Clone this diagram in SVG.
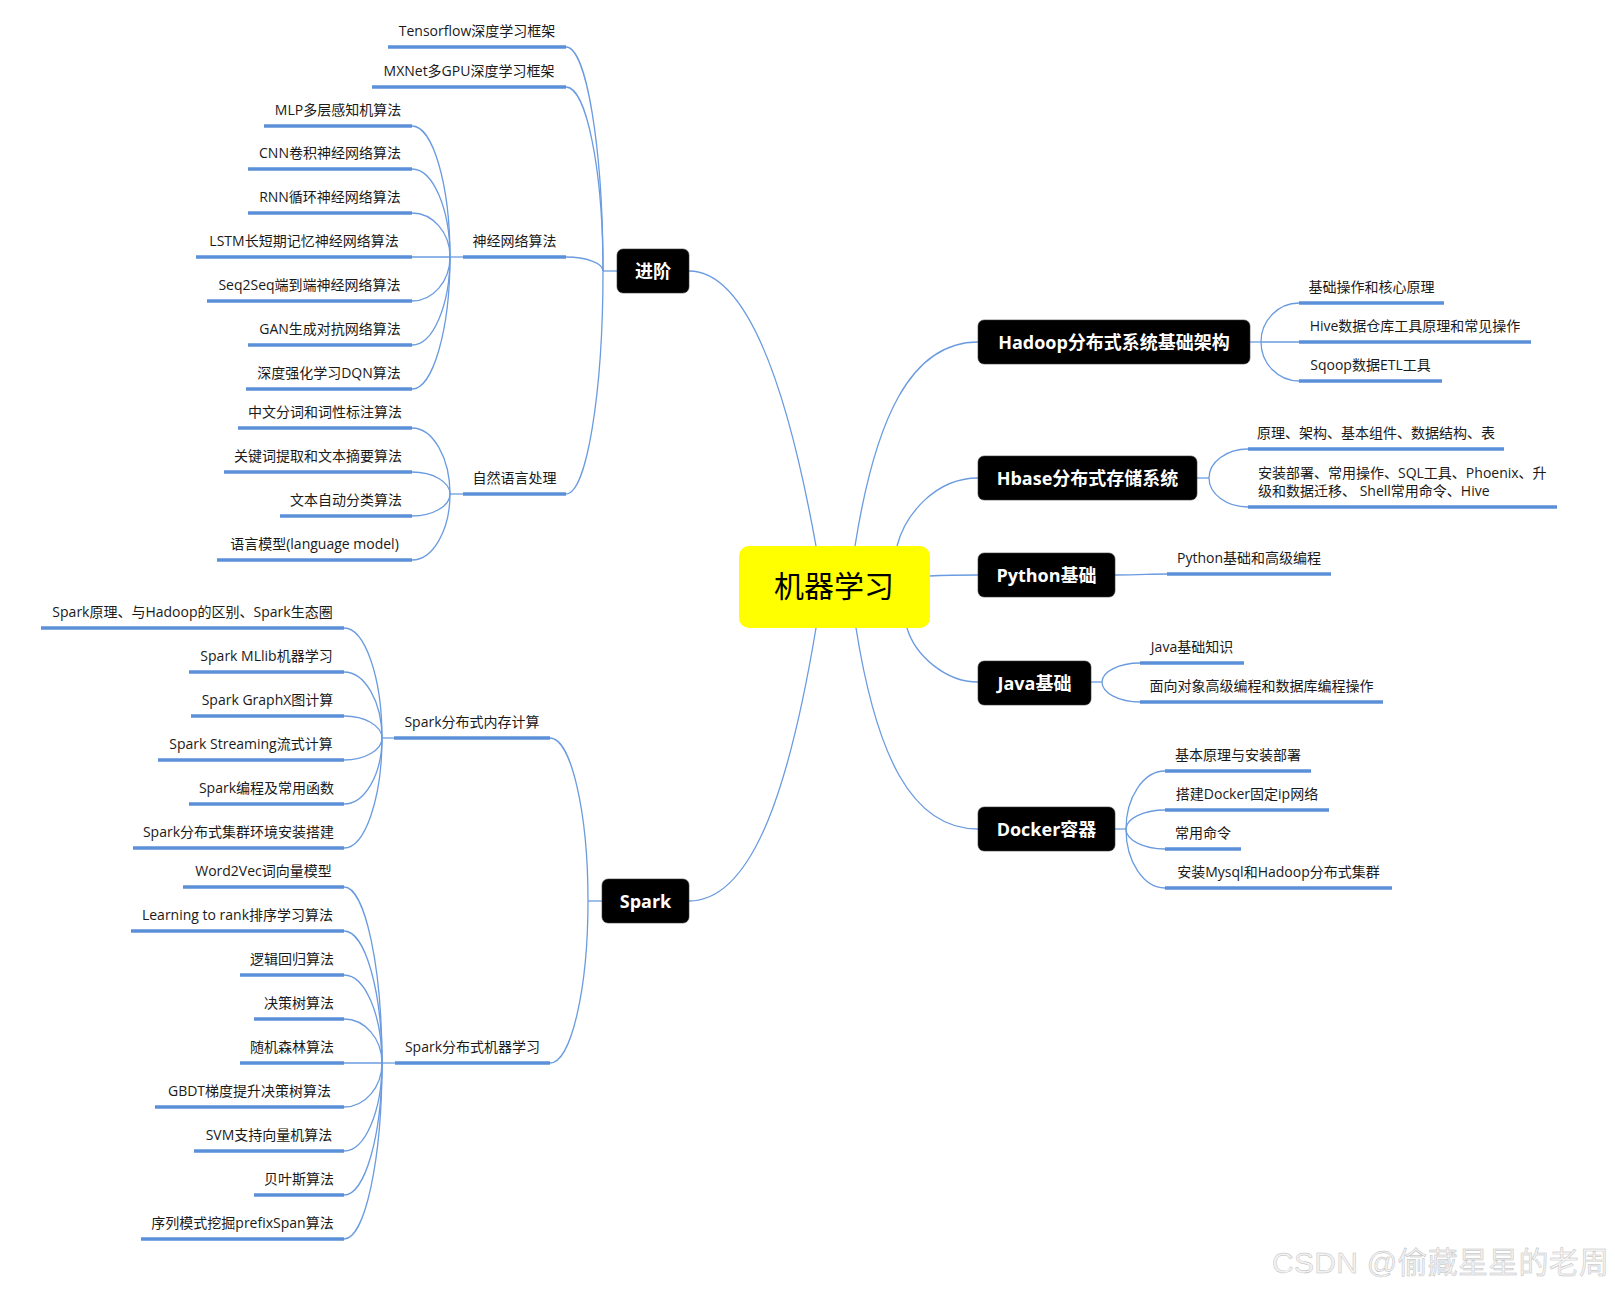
<svg xmlns="http://www.w3.org/2000/svg" width="1615" height="1291" viewBox="0 0 1615 1291">
<style>
.cn{fill:none;stroke:#6a9be0;stroke-width:1.3}
.ul{stroke:#5b8fd8;stroke-width:3.5}
.lt{font-family:"Open Sans","Noto Sans CJK SC",sans-serif;font-size:14px;fill:#1a1a1a;text-anchor:middle}
.lt.s{text-anchor:start}
.box{fill:#000;stroke:#3a3a3a;stroke-width:0.6}
.nt{font-family:"Open Sans","Noto Sans CJK SC",sans-serif;font-size:18px;font-weight:bold;fill:#fff;text-anchor:middle}
.root{fill:#ffff00}
.rt{font-family:"Open Sans","Noto Sans CJK SC",sans-serif;font-size:30px;fill:#000;text-anchor:middle}
.wm{font-family:"Liberation Sans","Noto Sans CJK SC",sans-serif;font-size:30px;fill:#f2f2f2;stroke:#bdbdbd;stroke-width:0.45}
</style>
<rect width="1615" height="1291" fill="#fff"/>
<g id="connectors">
<path class="cn" d="M816 546 C789 396 749 271 689 271"/>
<path class="cn" d="M816 628 C791 778 755 901 689 901"/>
<path class="cn" d="M855 546 C875 420 910 342 978 342"/>
<path class="cn" d="M897 546 C905 515 935 478 978 478"/>
<path class="cn" d="M929 576 C950 575 960 575 978 575"/>
<path class="cn" d="M907 628 C915 655 945 682 978 682"/>
<path class="cn" d="M856 628 C876 754 911 829 978 829"/>
<path class="cn" d="M603 271 H617"/>
<path class="cn" d="M566 47 C586.4 47 603 147.8 603 271"/>
<path class="cn" d="M566 87 C586.4 87 603 169.8 603 271"/>
<path class="cn" d="M566 257 C586.4 257 603 263.3 603 271"/>
<path class="cn" d="M566 494 C586.4 494 603 393.7 603 271"/>
<path class="cn" d="M450 257 H463"/>
<path class="cn" d="M412 126 C432.9 126 450 185 450 257"/>
<path class="cn" d="M412 169 C432.9 169 450 208.6 450 257"/>
<path class="cn" d="M412 213 C432.9 213 450 232.8 450 257"/>
<path class="cn" d="M412 257 H450"/>
<path class="cn" d="M412 301 C432.9 301 450 281.2 450 257"/>
<path class="cn" d="M412 345 C432.9 345 450 305.4 450 257"/>
<path class="cn" d="M412 389 C432.9 389 450 329.6 450 257"/>
<path class="cn" d="M450 494 H463"/>
<path class="cn" d="M412 428 C432.9 428 450 457.7 450 494"/>
<path class="cn" d="M412 472 C432.9 472 450 481.9 450 494"/>
<path class="cn" d="M412 516 C432.9 516 450 506.1 450 494"/>
<path class="cn" d="M412 560 C432.9 560 450 530.3 450 494"/>
<path class="cn" d="M588 901 H602"/>
<path class="cn" d="M550 738 C570.9 738 588 811.4 588 901"/>
<path class="cn" d="M550 1063 C570.9 1063 588 990.1 588 901"/>
<path class="cn" d="M382 738 H394"/>
<path class="cn" d="M344 628 C364.9 628 382 677.5 382 738"/>
<path class="cn" d="M344 672 C364.9 672 382 701.7 382 738"/>
<path class="cn" d="M344 716 C364.9 716 382 725.9 382 738"/>
<path class="cn" d="M344 760 C364.9 760 382 750.1 382 738"/>
<path class="cn" d="M344 804 C364.9 804 382 774.3 382 738"/>
<path class="cn" d="M344 848 C364.9 848 382 798.5 382 738"/>
<path class="cn" d="M382 1063 H395"/>
<path class="cn" d="M344 887 C364.9 887 382 966.2 382 1063"/>
<path class="cn" d="M344 931 C364.9 931 382 990.4 382 1063"/>
<path class="cn" d="M344 975 C364.9 975 382 1014.6 382 1063"/>
<path class="cn" d="M344 1019 C364.9 1019 382 1038.8 382 1063"/>
<path class="cn" d="M344 1063 H382"/>
<path class="cn" d="M344 1107 C364.9 1107 382 1087.2 382 1063"/>
<path class="cn" d="M344 1151 C364.9 1151 382 1111.4 382 1063"/>
<path class="cn" d="M344 1195 C364.9 1195 382 1135.6 382 1063"/>
<path class="cn" d="M344 1239 C364.9 1239 382 1159.8 382 1063"/>
<path class="cn" d="M1250 342 H1261"/>
<path class="cn" d="M1299 303 C1278.1 303 1261 320.6 1261 342"/>
<path class="cn" d="M1261 342 H1299"/>
<path class="cn" d="M1299 381 C1278.1 381 1261 363.5 1261 342"/>
<path class="cn" d="M1197 478 H1209"/>
<path class="cn" d="M1248 449 C1226.6 449 1209 462.1 1209 478"/>
<path class="cn" d="M1248 507 C1226.6 507 1209 494 1209 478"/>
<path class="cn" d="M1115 575 C1140 575 1150 574 1167 574"/>
<path class="cn" d="M1091 682 H1102"/>
<path class="cn" d="M1140 663 C1119.1 663 1102 671.6 1102 682"/>
<path class="cn" d="M1140 702 C1119.1 702 1102 693 1102 682"/>
<path class="cn" d="M1115 829 H1126"/>
<path class="cn" d="M1165 771 C1143.6 771 1126 797.1 1126 829"/>
<path class="cn" d="M1165 810 C1143.6 810 1126 818.6 1126 829"/>
<path class="cn" d="M1165 849 C1143.6 849 1126 840 1126 829"/>
<path class="cn" d="M1165 888 C1143.6 888 1126 861.5 1126 829"/>
</g>

<g id="root"><rect class="root" x="739" y="546" width="191" height="82" rx="10"/><text class="rt" x="834" y="597">机器学习</text></g>

<g id="n-jinjie"><rect class="box" x="617" y="249" width="72" height="44" rx="6"/><text class="nt" x="653" y="277.5">进阶</text></g>
<g id="n-spark"><rect class="box" x="602" y="879" width="87" height="44" rx="6"/><text class="nt" x="645.5" y="907.5">Spark</text></g>
<g id="n-hadoop"><rect class="box" x="978" y="320" width="272" height="44" rx="6"/><text class="nt" x="1114" y="348.5">Hadoop分布式系统基础架构</text></g>
<g id="n-hbase"><rect class="box" x="978" y="456" width="219" height="44" rx="6"/><text class="nt" x="1087.5" y="484.5">Hbase分布式存储系统</text></g>
<g id="n-python"><rect class="box" x="978" y="553" width="137" height="44" rx="6"/><text class="nt" x="1046.5" y="581.5">Python基础</text></g>
<g id="n-java"><rect class="box" x="978" y="661" width="113" height="44" rx="6"/><text class="nt" x="1034.5" y="689.5">Java基础</text></g>
<g id="n-docker"><rect class="box" x="978" y="807" width="137" height="44" rx="6"/><text class="nt" x="1046.5" y="835.5">Docker容器</text></g>

<g id="t-tensorflow"><line class="ul" x1="388" y1="47" x2="566" y2="47"/><text class="lt" x="477" y="35.5">Tensorflow深度学习框架</text></g>
<g id="t-mxnet"><line class="ul" x1="372" y1="87" x2="566" y2="87"/><text class="lt" x="469" y="75.5">MXNet多GPU深度学习框架</text></g>
<g id="t-nn"><line class="ul" x1="463" y1="257" x2="566" y2="257"/><text class="lt" x="514.5" y="245.5">神经网络算法</text></g>
<g id="t-nlp"><line class="ul" x1="463" y1="494" x2="566" y2="494"/><text class="lt" x="514.5" y="482.5">自然语言处理</text></g>

<g id="t-mlp"><line class="ul" x1="264" y1="126" x2="412" y2="126"/><text class="lt" x="338" y="114.5">MLP多层感知机算法</text></g>
<g id="t-cnn"><line class="ul" x1="248" y1="169" x2="412" y2="169"/><text class="lt" x="330" y="157.5">CNN卷积神经网络算法</text></g>
<g id="t-rnn"><line class="ul" x1="248" y1="213" x2="412" y2="213"/><text class="lt" x="330" y="201.5">RNN循环神经网络算法</text></g>
<g id="t-lstm"><line class="ul" x1="196" y1="257" x2="412" y2="257"/><text class="lt" x="304" y="245.5">LSTM长短期记忆神经网络算法</text></g>
<g id="t-seq"><line class="ul" x1="207" y1="301" x2="412" y2="301"/><text class="lt" x="309.5" y="289.5">Seq2Seq端到端神经网络算法</text></g>
<g id="t-gan"><line class="ul" x1="248" y1="345" x2="412" y2="345"/><text class="lt" x="330" y="333.5">GAN生成对抗网络算法</text></g>
<g id="t-dqn"><line class="ul" x1="246" y1="389" x2="412" y2="389"/><text class="lt" x="329" y="377.5">深度强化学习DQN算法</text></g>

<g id="t-cws"><line class="ul" x1="238" y1="428" x2="412" y2="428"/><text class="lt" x="325" y="416.5">中文分词和词性标注算法</text></g>
<g id="t-kw"><line class="ul" x1="224" y1="472" x2="412" y2="472"/><text class="lt" x="318" y="460.5">关键词提取和文本摘要算法</text></g>
<g id="t-cls"><line class="ul" x1="280" y1="516" x2="412" y2="516"/><text class="lt" x="346" y="504.5">文本自动分类算法</text></g>
<g id="t-lm"><line class="ul" x1="217" y1="560" x2="412" y2="560"/><text class="lt" x="314.5" y="548.5">语言模型(language model)</text></g>

<g id="t-mem"><line class="ul" x1="394" y1="738" x2="550" y2="738"/><text class="lt" x="472" y="726.5">Spark分布式内存计算</text></g>
<g id="t-sml"><line class="ul" x1="395" y1="1063" x2="550" y2="1063"/><text class="lt" x="472.5" y="1051.5">Spark分布式机器学习</text></g>

<g id="t-s1"><line class="ul" x1="41" y1="628" x2="344" y2="628"/><text class="lt" x="192.5" y="616.5">Spark原理、与Hadoop的区别、Spark生态圈</text></g>
<g id="t-s2"><line class="ul" x1="189" y1="672" x2="344" y2="672"/><text class="lt" x="266.5" y="660.5">Spark MLlib机器学习</text></g>
<g id="t-s3"><line class="ul" x1="191" y1="716" x2="344" y2="716"/><text class="lt" x="267.5" y="704.5">Spark GraphX图计算</text></g>
<g id="t-s4"><line class="ul" x1="158" y1="760" x2="344" y2="760"/><text class="lt" x="251" y="748.5">Spark Streaming流式计算</text></g>
<g id="t-s5"><line class="ul" x1="189" y1="804" x2="344" y2="804"/><text class="lt" x="266.5" y="792.5">Spark编程及常用函数</text></g>
<g id="t-s6"><line class="ul" x1="133" y1="848" x2="344" y2="848"/><text class="lt" x="238.5" y="836.5">Spark分布式集群环境安装搭建</text></g>

<g id="t-m1"><line class="ul" x1="183" y1="887" x2="344" y2="887"/><text class="lt" x="263.5" y="875.5">Word2Vec词向量模型</text></g>
<g id="t-m2"><line class="ul" x1="131" y1="931" x2="344" y2="931"/><text class="lt" x="237.5" y="919.5">Learning to rank排序学习算法</text></g>
<g id="t-m3"><line class="ul" x1="240" y1="975" x2="344" y2="975"/><text class="lt" x="292" y="963.5">逻辑回归算法</text></g>
<g id="t-m4"><line class="ul" x1="254" y1="1019" x2="344" y2="1019"/><text class="lt" x="299" y="1007.5">决策树算法</text></g>
<g id="t-m5"><line class="ul" x1="240" y1="1063" x2="344" y2="1063"/><text class="lt" x="292" y="1051.5">随机森林算法</text></g>
<g id="t-m6"><line class="ul" x1="155" y1="1107" x2="344" y2="1107"/><text class="lt" x="249.5" y="1095.5">GBDT梯度提升决策树算法</text></g>
<g id="t-m7"><line class="ul" x1="194" y1="1151" x2="344" y2="1151"/><text class="lt" x="269" y="1139.5">SVM支持向量机算法</text></g>
<g id="t-m8"><line class="ul" x1="254" y1="1195" x2="344" y2="1195"/><text class="lt" x="299" y="1183.5">贝叶斯算法</text></g>
<g id="t-m9"><line class="ul" x1="141" y1="1239" x2="344" y2="1239"/><text class="lt" x="242.5" y="1227.5">序列模式挖掘prefixSpan算法</text></g>

<g id="t-h1"><line class="ul" x1="1299" y1="303" x2="1444" y2="303"/><text class="lt" x="1371.5" y="291.5">基础操作和核心原理</text></g>
<g id="t-h2"><line class="ul" x1="1299" y1="342" x2="1531" y2="342"/><text class="lt" x="1415" y="330.5">Hive数据仓库工具原理和常见操作</text></g>
<g id="t-h3"><line class="ul" x1="1299" y1="381" x2="1442" y2="381"/><text class="lt" x="1370.5" y="369.5">Sqoop数据ETL工具</text></g>
<g id="t-b1"><line class="ul" x1="1248" y1="449" x2="1504" y2="449"/><text class="lt" x="1376" y="437.5">原理、架构、基本组件、数据结构、表</text></g>
<g id="t-b2"><line class="ul" x1="1248" y1="507" x2="1557" y2="507"/><text class="lt s" x="1258" y="477.5">安装部署、常用操作、SQL工具、Phoenix、升</text><text class="lt s" x="1258" y="495.5">级和数据迁移、 Shell常用命令、Hive</text></g>
<g id="t-p1"><line class="ul" x1="1167" y1="574" x2="1331" y2="574"/><text class="lt" x="1249" y="562.5">Python基础和高级编程</text></g>
<g id="t-j1"><line class="ul" x1="1140" y1="663" x2="1244" y2="663"/><text class="lt" x="1192" y="651.5">Java基础知识</text></g>
<g id="t-j2"><line class="ul" x1="1140" y1="702" x2="1383" y2="702"/><text class="lt" x="1261.5" y="690.5">面向对象高级编程和数据库编程操作</text></g>
<g id="t-d1"><line class="ul" x1="1165" y1="771" x2="1311" y2="771"/><text class="lt" x="1238" y="759.5">基本原理与安装部署</text></g>
<g id="t-d2"><line class="ul" x1="1165" y1="810" x2="1329" y2="810"/><text class="lt" x="1247" y="798.5">搭建Docker固定ip网络</text></g>
<g id="t-d3"><line class="ul" x1="1165" y1="849" x2="1241" y2="849"/><text class="lt" x="1203" y="837.5">常用命令</text></g>
<g id="t-d4"><line class="ul" x1="1165" y1="888" x2="1392" y2="888"/><text class="lt" x="1278.5" y="876.5">安装Mysql和Hadoop分布式集群</text></g>

<text class="wm" x="1272" y="1273" textLength="337" lengthAdjust="spacing">CSDN @偷藏星星的老周</text>
</svg>
